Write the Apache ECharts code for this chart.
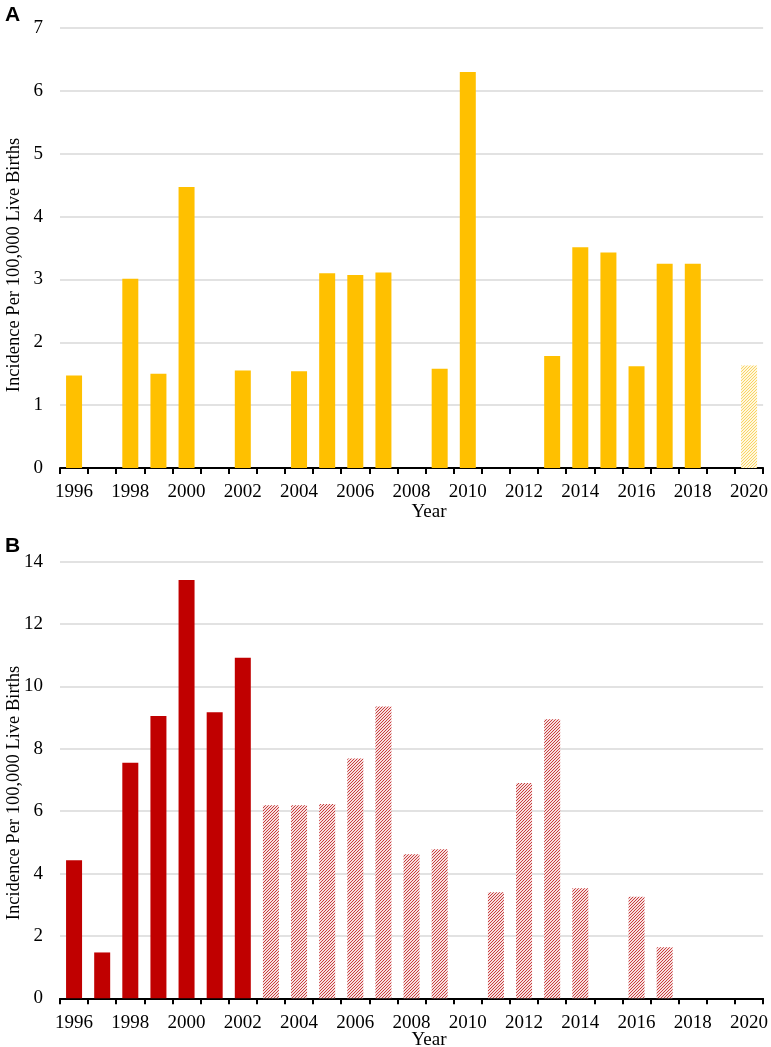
<!DOCTYPE html>
<html>
<head>
<meta charset="utf-8">
<script src="https://cdn.jsdelivr.net/npm/echarts@6/dist/echarts.min.js"></script>
<style>
html,body{margin:0;padding:0;background:#fff;}
#c{width:771px;height:1047px;}
</style>
</head>
<body>
<div id="c"></div>
<script>
// ---- data ----
const years = ['1996','1997','1998','1999','2000','2001','2002','2003','2004','2005','2006','2007','2008','2009','2010','2011','2012','2013','2014','2015','2016','2017','2018','2019','2020'];
const panelAValues = [1.47,0,3.01,1.50,4.47,0,1.55,0,1.54,3.10,3.07,3.11,0,1.58,6.30,0,0,1.78,3.51,3.43,1.62,3.25,3.25,0,1.63];
const panelAHatchedYears = ['2020'];
const panelBValues = [4.43,1.47,7.55,9.05,13.41,9.17,10.92,6.19,6.19,6.23,7.69,9.36,4.62,4.78,0,3.40,6.90,8.95,3.53,0,3.26,1.64,0,0,0];
const panelBHatchedYears = ['2003','2004','2005','2006','2007','2008','2009','2010','2011','2012','2013','2014','2015','2016','2017','2018','2019','2020'];
const panelATicks = [0,1,2,3,4,5,6,7];
const panelBTicks = [0,2,4,6,8,10,12,14];

function hatch(bg, line, size, lw) {
  const cv = document.createElement('canvas');
  cv.width = size; cv.height = size;
  const g = cv.getContext('2d');
  g.fillStyle = bg; g.fillRect(0,0,size,size);
  g.strokeStyle = line; g.lineWidth = lw;
  g.beginPath();
  g.moveTo(0,size); g.lineTo(size,0);
  g.moveTo(-1,1); g.lineTo(1,-1);
  g.moveTo(size-1,size+1); g.lineTo(size+1,size-1);
  g.stroke();
  return {image: cv, repeat: 'repeat'};
}

const yellow = '#FFC000';
const red = '#C00000';
const hatchA = hatch('#fff7de', '#f7cf55', 3, 0.9);
const hatchB = hatch('#f6e0e0', '#c42a2a', 3, 0.9);

function buildData(vals, hatchedYears, solid, hatched) {
  return vals.map((v,i) => ({
    value: v,
    itemStyle: {color: hatchedYears.indexOf(years[i]) >= 0 ? hatched : solid}
  }));
}

const serif = 'Liberation Serif, Times New Roman, serif';
const chart = echarts.init(document.getElementById('c'), null, {renderer: 'canvas'});

function xAx(gi) {
  return {
    type: 'category', gridIndex: gi, data: years, boundaryGap: true,
    axisLine: {show: true, lineStyle: {color: '#000', width: 2}},
    axisTick: {show: true, interval: 0, length: 6, lineStyle: {color: '#000', width: 2}},
    axisLabel: {interval: 1, color: '#000', fontFamily: serif, fontSize: 19, margin: 15},
    splitLine: {show: false}
  };
}
function yAx(gi, ticks) {
  return {
    type: 'value', gridIndex: gi, min: ticks[0], max: ticks[ticks.length-1],
    interval: ticks[1]-ticks[0],
    axisLine: {show: false}, axisTick: {show: false},
    axisLabel: {color: '#000', fontFamily: serif, fontSize: 19, margin: 17},
    splitLine: {show: true, lineStyle: {color: '#d9d9d9', width: 1.5}}
  };
}

const yName = 'Incidence Per 100,000 Live Births';
chart.setOption({
  animation: false,
  backgroundColor: '#fff',
  grid: [
    {left: 60, right: 6, top: 28, height: 440},
    {left: 60, right: 6, top: 561.7, height: 436.6}
  ],
  xAxis: [xAx(0), xAx(1)],
  yAxis: [yAx(0, panelATicks), yAx(1, panelBTicks)],
  series: [
    {type: 'bar', xAxisIndex: 0, yAxisIndex: 0, barWidth: 16,
     data: buildData(panelAValues, panelAHatchedYears, yellow, hatchA)},
    {type: 'bar', xAxisIndex: 1, yAxisIndex: 1, barWidth: 16,
     data: buildData(panelBValues, panelBHatchedYears, red, hatchB)}
  ],
  graphic: [
    {type: 'text', left: 5, top: 5, style: {text: 'A', font: 'bold 21px Liberation Sans, Arial, sans-serif', fill: '#000'}},
    {type: 'text', left: 5, top: 536, style: {text: 'B', font: 'bold 21px Liberation Sans, Arial, sans-serif', fill: '#000'}},
    {type: 'text', x: 429, y: 512, style: {text: 'Year', font: '19px ' + serif, fill: '#000', textAlign: 'center', textVerticalAlign: 'middle'}},
    {type: 'text', x: 429, y: 1040, style: {text: 'Year', font: '19px ' + serif, fill: '#000', textAlign: 'center', textVerticalAlign: 'middle'}},
    {type: 'text', x: 14, y: 265, rotation: Math.PI/2, style: {text: yName, font: '18.5px ' + serif, fill: '#000', textAlign: 'center', textVerticalAlign: 'middle'}},
    {type: 'text', x: 14, y: 793, rotation: Math.PI/2, style: {text: yName, font: '18.5px ' + serif, fill: '#000', textAlign: 'center', textVerticalAlign: 'middle'}}
  ]
});
</script>
</body>
</html>
